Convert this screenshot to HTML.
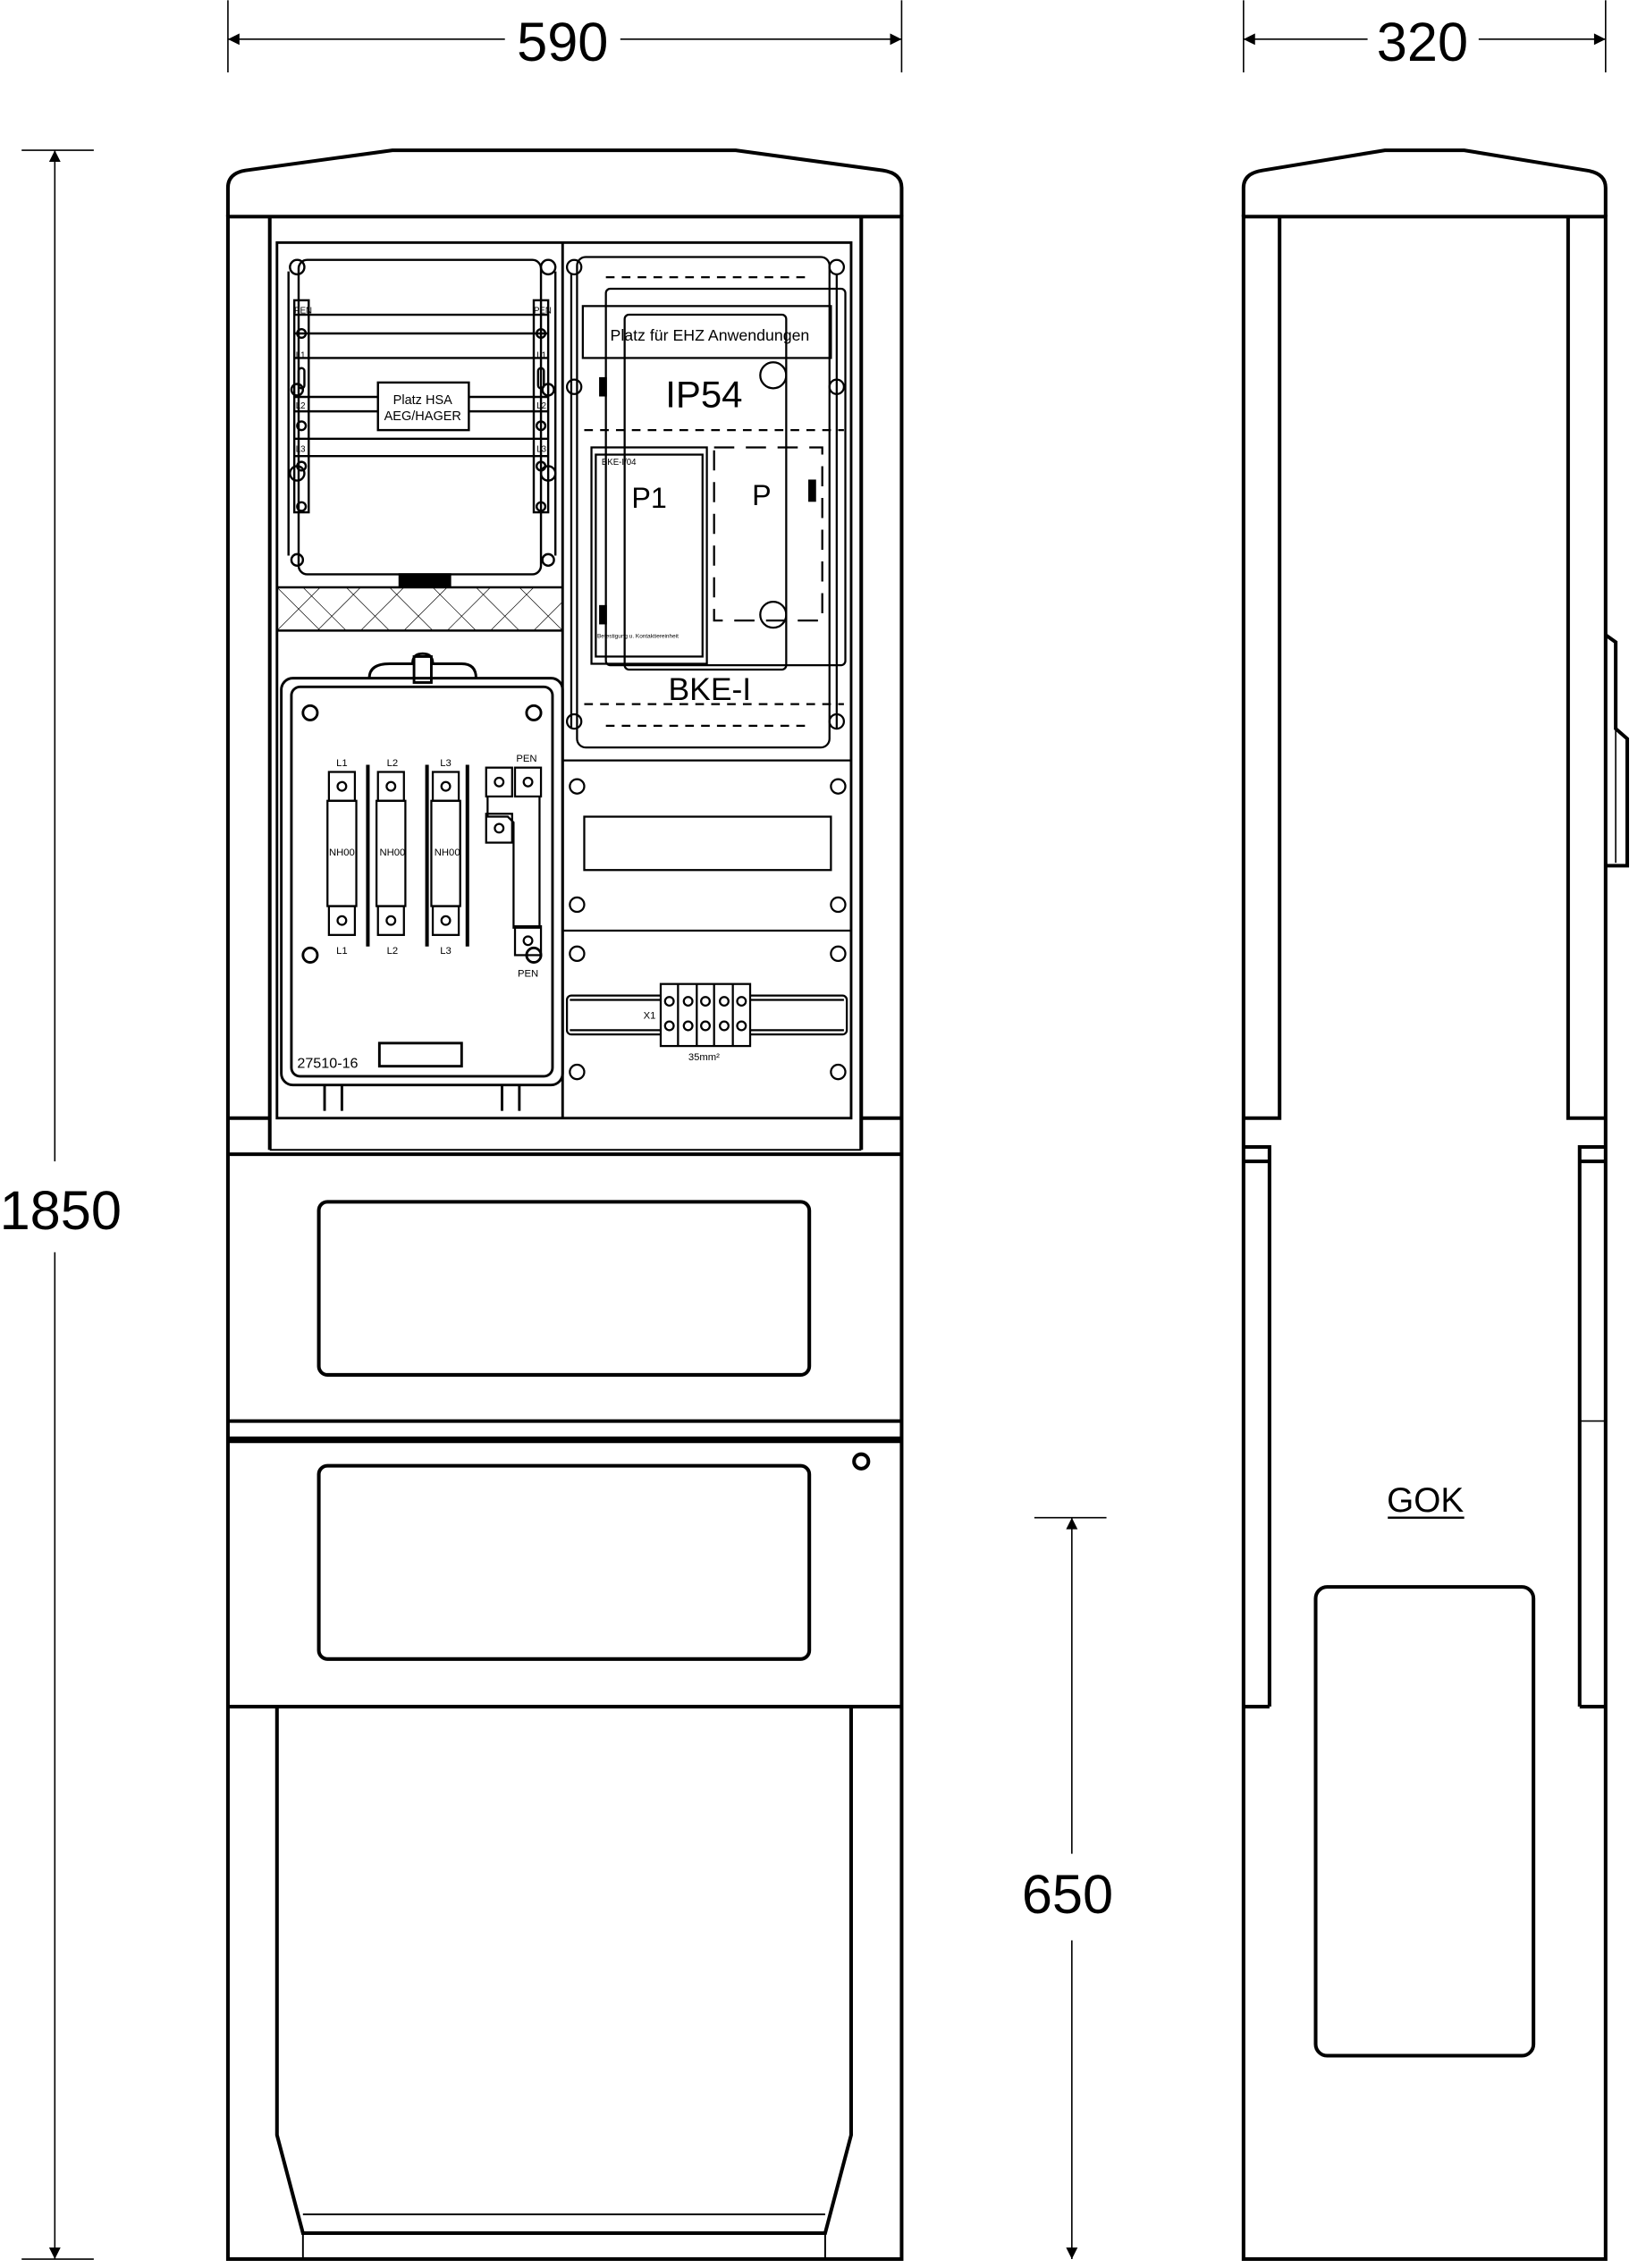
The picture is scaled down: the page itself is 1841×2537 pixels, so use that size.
<!DOCTYPE html>
<html><head><meta charset="utf-8"><style>html,body{margin:0;padding:0;background:#fff}svg{display:block}</style></head>
<body>
<svg width="1841" height="2537" viewBox="0 0 1141 1572" xmlns="http://www.w3.org/2000/svg" font-family="Liberation Sans, sans-serif">
<rect width="1141" height="1572" fill="#fff"/>
<defs>
<marker id="ar" viewBox="0 0 10 10" refX="10" refY="5" markerWidth="14" markerHeight="8" orient="auto-start-reverse" markerUnits="userSpaceOnUse"><path d="M0,0 L10,5 L0,10 z" fill="#000"/></marker>
</defs>
<g stroke="#000" fill="none" stroke-width="1">
<line x1="158" y1="0" x2="158" y2="50"/><line x1="625" y1="0" x2="625" y2="50"/>
<line x1="158" y1="27" x2="350" y2="27" marker-start="url(#ar)"/><line x1="430" y1="27" x2="625" y2="27" marker-end="url(#ar)"/>
<line x1="862" y1="0" x2="862" y2="50"/><line x1="1113" y1="0" x2="1113" y2="50"/>
<line x1="862" y1="27" x2="948" y2="27" marker-start="url(#ar)"/><line x1="1025" y1="27" x2="1113" y2="27" marker-end="url(#ar)"/>
<line x1="15" y1="104" x2="65" y2="104"/><line x1="15" y1="1566" x2="65" y2="1566"/>
<line x1="38" y1="104" x2="38" y2="805" marker-start="url(#ar)"/><line x1="38" y1="868" x2="38" y2="1566" marker-end="url(#ar)"/>
<line x1="717" y1="1052" x2="767" y2="1052"/>
<line x1="743" y1="1052" x2="743" y2="1285" marker-start="url(#ar)"/><line x1="743" y1="1345" x2="743" y2="1566" marker-end="url(#ar)"/>
</g>
<g font-size="38" fill="#000" text-anchor="middle">
<text x="390" y="42">590</text><text x="986" y="42">320</text>
<text x="42" y="852">1850</text><text x="740" y="1326">650</text>
</g>
<g stroke="#000" fill="none" stroke-width="2.5">
<path d="M158,150 L158,130 Q158,120 170,118 L272,104 L510,104 L612,118 Q625,120 625,130 L625,150"/>
<rect x="158" y="150" width="467" height="1416"/>
<path d="M187,150 V797 M597,150 V797 M158,775 H187 M597,775 H625 M158,800 H625"/>
<line x1="187" y1="797" x2="597" y2="797" stroke-width="1.2"/>
<path d="M158,985 H625" /><path d="M158,998 H625" stroke-width="4.5"/>
<path d="M158,1183 H625"/>
<rect x="221" y="833" width="340" height="120" rx="6"/>
<rect x="221" y="1016" width="340" height="134" rx="6"/>
<circle cx="597" cy="1013" r="5"/>
<path d="M192,1183 V1480 L210,1548 H572 L590,1480 V1183"/>
<path d="M210,1535 H572" stroke-width="1.2"/>
<path d="M210,1548 V1566 M572,1548 V1566" stroke-width="1.2"/>
<rect x="192" y="168" width="398" height="607" stroke-width="1.8"/>
<line x1="390" y1="168" x2="390" y2="775" stroke-width="1.8"/>
</g>
<g stroke="#000" fill="none" stroke-width="1.5">
<rect x="207" y="180" width="168" height="218" rx="6"/>
<path d="M200,188 V385 M385,188 V385"/>
<circle cx="206" cy="185" r="5"/><circle cx="380" cy="185" r="5"/><circle cx="206" cy="270" r="4"/><circle cx="380" cy="270" r="4"/>
<circle cx="206" cy="388" r="4"/><circle cx="380" cy="388" r="4"/><circle cx="206" cy="328" r="5"/><circle cx="380" cy="328" r="5"/>
<rect x="204" y="208" width="10" height="147"/><rect x="370" y="208" width="10" height="147"/>
<path d="M204,218 H380 M204,231 H380 M204,248 H380 M204,275 H263 M325,275 H380 M204,285 H263 M325,285 H380 M204,304 H380 M204,316 H380"/>
<rect x="262" y="265" width="63" height="33" fill="#fff"/>
<circle cx="209" cy="231" r="3"/><circle cx="375" cy="231" r="3"/><circle cx="209" cy="295" r="3"/><circle cx="375" cy="295" r="3"/>
<circle cx="209" cy="323" r="3"/><circle cx="375" cy="323" r="3"/><circle cx="209" cy="351" r="3"/><circle cx="375" cy="351" r="3"/>
<rect x="207" y="255" width="4" height="14" rx="2"/><rect x="373" y="255" width="4" height="14" rx="2"/>
<rect x="277" y="398" width="35" height="8" fill="#000"/>
<path d="M192,407 H390 M192,437 H390"/>
</g>
<g stroke="#000" stroke-width="0.4" fill="none">
<path d="M192,407 l30,30 M210,407 l30,30 M240,407 l30,30 M270,407 l30,30 M300,407 l30,30 M330,407 l30,30 M360,407 l30,30 M192,437 l30,-30 M220,437 l30,-30 M250,437 l30,-30 M280,437 l30,-30 M310,437 l30,-30 M340,437 l30,-30 M370,437 l20,-20"/>
</g>
<g font-size="9" fill="#000" text-anchor="middle">
<text x="293" y="280">Platz HSA</text><text x="293" y="291">AEG/HAGER</text>
</g>
<g font-size="6" fill="#000"><text x="204" y="217">PEN</text><text x="370" y="217">PEN</text><text x="205" y="248">L1</text><text x="372" y="248">L1</text><text x="205" y="283">L2</text><text x="372" y="283">L2</text><text x="205" y="313">L3</text><text x="372" y="313">L3</text></g>
<g stroke="#000" fill="none" stroke-width="1.8">
<rect x="195" y="470" width="195" height="282" rx="8"/>
<rect x="202" y="476" width="181" height="270" rx="6"/>
<path d="M256,470 Q256,460 270,460 L286,460 Q286,453 293,453 Q300,453 300,460 L320,460 Q330,460 330,470" />
<rect x="287" y="455" width="12" height="18"/>
<circle cx="215" cy="494" r="5"/><circle cx="370" cy="494" r="5"/><circle cx="215" cy="662" r="5"/><circle cx="370" cy="662" r="5"/>
<rect x="263" y="723" width="57" height="16"/>
<path d="M225,752 V770 M237,752 V770 M348,752 V770 M360,752 V770"/>
</g>
<g stroke="#000" stroke-width="2.5"><path d="M255,530 V656 M296,530 V656 M324,530 V656"/></g>
<g stroke="#000" fill="none" stroke-width="1.4">
<rect x="228" y="535" width="18" height="20"/><rect x="228" y="628" width="18" height="20"/><rect x="227" y="555" width="20" height="73"/>
<rect x="262" y="535" width="18" height="20"/><rect x="262" y="628" width="18" height="20"/><rect x="261" y="555" width="20" height="73"/>
<rect x="300" y="535" width="18" height="20"/><rect x="300" y="628" width="18" height="20"/><rect x="299" y="555" width="20" height="73"/>
<rect x="337" y="532" width="18" height="20"/><rect x="357" y="532" width="18" height="20"/><rect x="337" y="564" width="18" height="20"/><rect x="357" y="642" width="18" height="20"/>
<path d="M338,552 V566 H352 L356,570 V643 H374 V552"/>
<circle cx="237" cy="545" r="3"/><circle cx="237" cy="638" r="3"/><circle cx="271" cy="545" r="3"/><circle cx="271" cy="638" r="3"/><circle cx="309" cy="545" r="3"/><circle cx="309" cy="638" r="3"/>
<circle cx="346" cy="542" r="3"/><circle cx="366" cy="542" r="3"/><circle cx="346" cy="574" r="3"/><circle cx="366" cy="652" r="3"/>
</g>
<g font-size="7" fill="#000" text-anchor="middle">
<text x="237" y="531">L1</text><text x="272" y="531">L2</text><text x="309" y="531">L3</text><text x="365" y="528">PEN</text>
<text x="237" y="661">L1</text><text x="272" y="661">L2</text><text x="309" y="661">L3</text><text x="366" y="677">PEN</text>
<text x="237" y="593">NH00</text><text x="272" y="593">NH00</text><text x="310" y="593">NH00</text>
</g>
<text x="206" y="740" font-size="10" fill="#000">27510-16</text>
<g stroke="#000" fill="none" stroke-width="1.4">
<rect x="400" y="178" width="175" height="340" rx="6"/>
<path d="M396,190 V505 M580,190 V505"/>
<circle cx="398" cy="185" r="5"/><circle cx="580" cy="185" r="5"/><circle cx="398" cy="268" r="5"/><circle cx="580" cy="268" r="5"/><circle cx="398" cy="500" r="5"/><circle cx="580" cy="500" r="5"/>
<rect x="404" y="212" width="172" height="36"/>
<rect x="420" y="200" width="166" height="261" rx="3"/>
<rect x="433" y="218" width="112" height="246" rx="3"/>
<rect x="410" y="310" width="80" height="150"/><rect x="413" y="315" width="74" height="140"/>
<path d="M420,192 H560 M405,298 H585 M405,488 H585 M420,503 H560" stroke-dasharray="6,5"/>
<path d="M495,310 H570 V430 H495 Z" stroke-dasharray="14,8"/>
<circle cx="536" cy="260" r="9"/><circle cx="536" cy="426" r="9"/>
<rect x="416" y="262" width="4" height="12" fill="#000"/><rect x="416" y="420" width="4" height="12" fill="#000"/><rect x="561" y="333" width="4" height="14" fill="#000"/>
<path d="M390,527 H590 M390,645 H590"/>
<rect x="405" y="566" width="171" height="37"/>
<circle cx="400" cy="545" r="5"/><circle cx="581" cy="545" r="5"/><circle cx="400" cy="627" r="5"/><circle cx="581" cy="627" r="5"/>
<circle cx="400" cy="661" r="5"/><circle cx="581" cy="661" r="5"/><circle cx="400" cy="743" r="5"/><circle cx="581" cy="743" r="5"/>
<rect x="393" y="690" width="194" height="27" rx="3"/>
<path d="M395,693 H585 M395,714 H585"/>
<rect x="458" y="682" width="62" height="43" fill="#fff"/>
<path d="M470,682 V725 M483,682 V725 M495,682 V725 M508,682 V725"/>
<circle cx="464" cy="694" r="3"/><circle cx="477" cy="694" r="3"/><circle cx="489" cy="694" r="3"/><circle cx="502" cy="694" r="3"/><circle cx="514" cy="694" r="3"/>
<circle cx="464" cy="711" r="3"/><circle cx="477" cy="711" r="3"/><circle cx="489" cy="711" r="3"/><circle cx="502" cy="711" r="3"/><circle cx="514" cy="711" r="3"/>
</g>
<g fill="#000">
<text x="423" y="236" font-size="11">Platz für EHZ Anwendungen</text>
<text x="488" y="282" font-size="26" text-anchor="middle">IP54</text>
<text x="450" y="352" font-size="20" text-anchor="middle">P1</text>
<text x="528" y="350" font-size="20" text-anchor="middle">P</text>
<text x="492" y="485" font-size="22" text-anchor="middle">BKE-I</text>
<text x="417" y="322" font-size="6">BKE-I/04</text>
<text x="414" y="442" font-size="4">Befestigung u. Kontaktiereinheit</text>
<text x="446" y="706" font-size="7">X1</text>
<text x="488" y="735" font-size="7" text-anchor="middle">35mm²</text>
</g>
<g stroke="#000" fill="none" stroke-width="2.5">
<path d="M862,150 L862,130 Q862,120 875,118 L960,104 L1015,104 L1100,118 Q1113,120 1113,130 L1113,150"/>
<rect x="862" y="150" width="251" height="1416"/>
<path d="M887,150 V775 H862 M1087,150 V775 H1113"/>
<path d="M862,795 H880 V1183 M1113,795 H1095 V1183 M862,1183 H880 M1095,1183 H1113 M862,805 H880 M1095,805 H1113"/>
<path d="M1095,985 H1113" stroke-width="1"/>
<rect x="912" y="1100" width="151" height="325" rx="8"/>
<path d="M1113,440 L1120,445 V505 L1128,512 V600 L1113,600"/>
<path d="M1120,505 V598" stroke-width="1"/>
<line x1="962" y1="1052" x2="1015" y2="1052" stroke-width="1.5"/>
</g>
<text x="988" y="1048" font-size="24" text-anchor="middle" fill="#000">GOK</text>
</svg>
</body></html>
